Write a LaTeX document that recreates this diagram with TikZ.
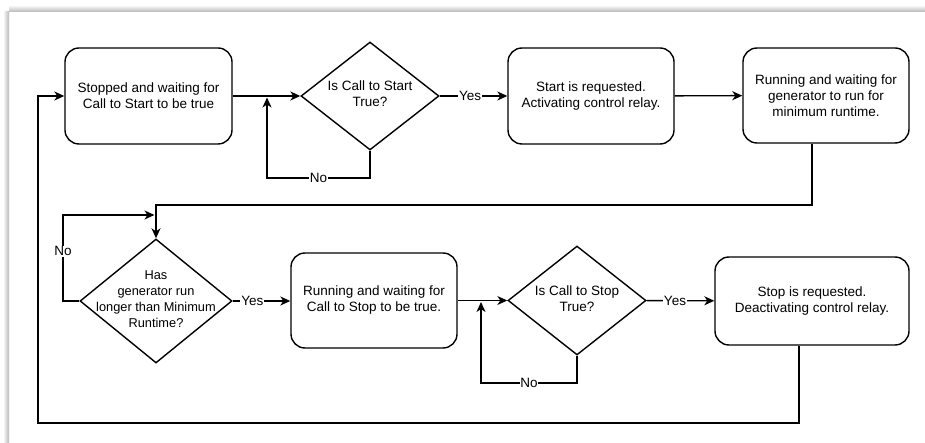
\documentclass[tikz,border=0pt]{standalone}
\usepackage{fontspec}
\setmainfont{Liberation Sans}
\usetikzlibrary{arrows.meta,shapes.geometric}

\begin{document}
\begin{tikzpicture}[x=1pt, y=-1pt, >={Stealth[length=10pt,width=9pt,inset=3pt]},
    line width=1.4pt, font=\fontsize{13.5}{16}\selectfont]

  % Styles
  \tikzset{
    block/.style={draw, rectangle, rounded corners=14pt, minimum width=166pt, minimum height=95pt, align=center, inner sep=2pt},
    decision/.style={draw, diamond, inner sep=0pt, minimum width=138pt, minimum height=108pt},
    lbl/.style={fill=white, inner sep=0.8pt, font=\fontsize{13.5}{15}\selectfont}
  }

  % Page and window shadow
  \useasboundingbox (0,0) rectangle (925,443);
  \fill[white] (0,0) rectangle (925,443);
  \shade[left color=white, right color=black!28, draw=none] (3,12) rectangle (9,443);
  \shade[top color=white, bottom color=black!28, draw=none] (9,5) rectangle (925,12);

  % Top row
  \node[block, minimum width=167pt, minimum height=96pt] (stopped) at (148.5,96) {Stopped and waiting for\\Call to Start to be true};
  \node[decision, label={[align=center, yshift=2pt]center:Is Call to Start\\True?}] (askstart) at (370,96) {};
  \node[block, minimum height=96pt] (startreq) at (591,96) {Start is requested.\\Activating control relay.};
  \node[block] (waitmin) at (826,95.5) {Running and waiting for\\generator to run for\\minimum runtime.};

  % Bottom row
  \node[decision, minimum width=152pt, minimum height=124pt,
        label={[align=center, yshift=2pt, font=\fontsize{12.8}{16}\selectfont]center:Has\\generator run\\longer than Minimum\\Runtime?}] (runlong) at (156,301) {};
  \node[block] (waitstop) at (374,300.5) {Running and waiting for\\Call to Stop to be true.};
  \node[decision, minimum height=109pt, label={[align=center, yshift=2pt]center:Is Call to Stop\\True?}] (askstop) at (577,300.5) {};
  \node[block, minimum width=194pt, minimum height=88pt] (stopreq) at (812,301) {Stop is requested.\\Deactivating control relay.};

  % Junctions of the loops
  \coordinate (join1) at (267,97.5);
  \coordinate (loop1) at (267,178);
  \coordinate (bend2) at (156,205);
  \coordinate (loop2) at (63,215);
  \coordinate (join2) at (154.5,215);
  \coordinate (join3) at (481,302);
  \coordinate (loop3) at (481,383);
  \coordinate (back) at (38,423);

  % Start side
  \draw[->] (stopped) -- (askstart);
  \draw[->] (askstart.south) -- (askstart.south |- loop1) -- node[lbl] {No} (loop1) -- (join1);
  \draw[->] (askstart) -- node[lbl, pos=0.45] {Yes} (startreq);
  \draw[->] (startreq) -- (waitmin);
  \draw[->] ([xshift=-14pt]waitmin.south) |- (bend2) -- (runlong.north);

  % Runtime check
  \draw[->] (runlong.west) -| node[lbl, pos=0.79] {No} (loop2) -- (join2);
  \draw[->] (runlong.east) -- node[lbl, pos=0.34] {Yes} (waitstop.west |- runlong.east);

  % Stop side
  \draw[->] (waitstop) -- (askstop);
  \draw[->] (askstop.south) -- (askstop.south |- loop3) -- node[lbl] {No} (loop3) -- (join3);
  \draw[->] (askstop) -- node[lbl, pos=0.42] {Yes} (stopreq);
  \draw[->] ([xshift=-13pt]stopreq.south) |- (back) |- (stopped.west);

\end{tikzpicture}
\end{document}
